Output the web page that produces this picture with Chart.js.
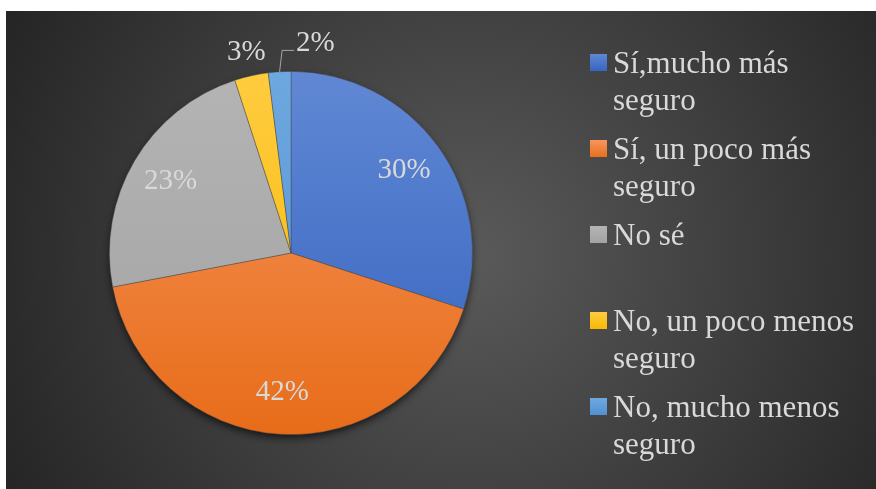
<!DOCTYPE html>
<html>
<head>
<meta charset="utf-8">
<script src="https://cdn.jsdelivr.net/npm/chart.js@4.4.1/dist/chart.umd.min.js"></script>
<style>
  html, body { margin: 0; padding: 0; background: #fff; }
  #wrap { width: 876px; height: 489px; position: relative; }
</style>
</head>
<body>
<div id="wrap"><canvas id="pieChart"></canvas></div>
<script>
// survey answers, legend text already split into its lines
const categories = [
  ['Sí,mucho más', 'seguro'],
  ['Sí, un poco más', 'seguro'],
  ['No sé'],
  ['No, un poco menos', 'seguro'],
  ['No, mucho menos', 'seguro']
];
const percentages = [30, 42, 23, 3, 2];

// top / bottom stops of each slice gradient
const lightColors = ['#6088d4', '#f7965e', '#b4b4b4', '#ffcc40', '#6ea8e0'];
const darkColors  = ['#3462be', '#e76c19', '#a2a2a2', '#f5b800', '#4f8fd0'];

const serif = "'Liberation Serif', 'Times New Roman', serif";
const textColor = '#d9d9d9';

function sliceGradient(context) {
  const chart = context.chart;
  const area = chart.chartArea;
  const i = context.dataIndex;
  if (!area) return darkColors[i];
  const g = chart.ctx.createLinearGradient(0, area.top, 0, area.bottom);
  g.addColorStop(0, lightColors[i]);
  g.addColorStop(1, darkColors[i]);
  return g;
}

// dark radial backdrop with the white strip at top/left
const backdrop = {
  id: 'backdrop',
  beforeDraw(chart) {
    const ctx = chart.ctx;
    const w = chart.width, h = chart.height;
    ctx.save();
    ctx.fillStyle = '#ffffff';
    ctx.fillRect(0, 0, w, h);
    const g = ctx.createRadialGradient(470, 255, 0, 470, 255, 520);
    g.addColorStop(0, '#5a5a5a');
    g.addColorStop(1, '#252525');
    ctx.fillStyle = g;
    ctx.fillRect(6, 11, w - 6, h - 11);
    ctx.restore();
  }
};

// soft shadow under the whole pie
const pieShadow = {
  id: 'pieShadow',
  beforeDatasetsDraw(chart) {
    const arc = chart.getDatasetMeta(0).data[0];
    if (!arc) return;
    const { x, y, outerRadius } = arc.getProps(['x', 'y', 'outerRadius'], true);
    const ctx = chart.ctx;
    ctx.save();
    ctx.shadowColor = 'rgba(0,0,0,0.7)';
    ctx.shadowBlur = 9;
    ctx.shadowOffsetY = 4;
    ctx.fillStyle = '#333';
    ctx.beginPath();
    ctx.arc(x, y, outerRadius - 1, 0, Math.PI * 2);
    ctx.fill();
    ctx.restore();
  }
};

// percentage labels, small slices outside, last one with a leader line
const sliceLabels = {
  id: 'sliceLabels',
  afterDatasetsDraw(chart) {
    const ctx = chart.ctx;
    const meta = chart.getDatasetMeta(0);
    ctx.save();
    ctx.font = '29px ' + serif;
    ctx.fillStyle = textColor;
    meta.data.forEach((arc, i) => {
      const p = arc.getProps(['x', 'y', 'startAngle', 'endAngle', 'outerRadius'], true);
      const mid = (p.startAngle + p.endAngle) / 2;
      const text = percentages[i] + '%';
      if (percentages[i] >= 10) {
        const r = p.outerRadius * 0.77;
        ctx.textAlign = 'center';
        ctx.textBaseline = 'middle';
        ctx.fillText(text, p.x + Math.cos(mid) * r, p.y + Math.sin(mid) * r);
      } else if (i < meta.data.length - 1) {
        const r = p.outerRadius * 1.13;
        ctx.textAlign = 'center';
        ctx.textBaseline = 'middle';
        ctx.fillText(text, p.x + Math.cos(mid) * r, p.y + Math.sin(mid) * r);
      } else {
        const ex = p.x + Math.cos(mid) * p.outerRadius;
        const ey = p.y + Math.sin(mid) * p.outerRadius;
        const kx = ex + 2.5, ky = p.y - p.outerRadius - 21;
        ctx.strokeStyle = '#a6a6a6';
        ctx.lineWidth = 1;
        ctx.beginPath();
        ctx.moveTo(ex, ey);
        ctx.lineTo(kx, ky);
        ctx.lineTo(kx + 12, ky);
        ctx.stroke();
        ctx.textAlign = 'left';
        ctx.textBaseline = 'alphabetic';
        ctx.fillText(text, kx + 14, ky + 1);
      }
    });
    ctx.restore();
  }
};

// legend on the right, one fixed slot per answer
const sideLegend = {
  id: 'sideLegend',
  afterDraw(chart) {
    const ctx = chart.ctx;
    const boxX = 590, textX = 613, firstBase = 73, slot = 86, lineH = 37, box = 17;
    ctx.save();
    ctx.font = '31px ' + serif;
    ctx.textAlign = 'left';
    ctx.textBaseline = 'alphabetic';
    categories.forEach((lines, i) => {
      const base = firstBase + slot * i;
      const g = ctx.createLinearGradient(0, base - 19, 0, base - 1);
      g.addColorStop(0, lightColors[i]);
      g.addColorStop(1, darkColors[i]);
      ctx.fillStyle = g;
      ctx.fillRect(boxX, base - 19, box, box);
      ctx.fillStyle = textColor;
      lines.forEach((line, j) => ctx.fillText(line, textX, base + j * lineH));
    });
    ctx.restore();
  }
};

new Chart(document.getElementById('pieChart'), {
  type: 'pie',
  data: {
    labels: categories,
    datasets: [{
      data: percentages,
      backgroundColor: sliceGradient,
      borderColor: 'rgba(70,70,70,0.55)',
      borderWidth: 0.8
    }]
  },
  options: {
    responsive: true,
    maintainAspectRatio: false,
    animation: false,
    layout: { padding: { left: 109, top: 71, right: 403, bottom: 54 } },
    plugins: {
      legend: { display: false },
      tooltip: { enabled: true }
    }
  },
  plugins: [backdrop, pieShadow, sliceLabels, sideLegend]
});
</script>
</body>
</html>
